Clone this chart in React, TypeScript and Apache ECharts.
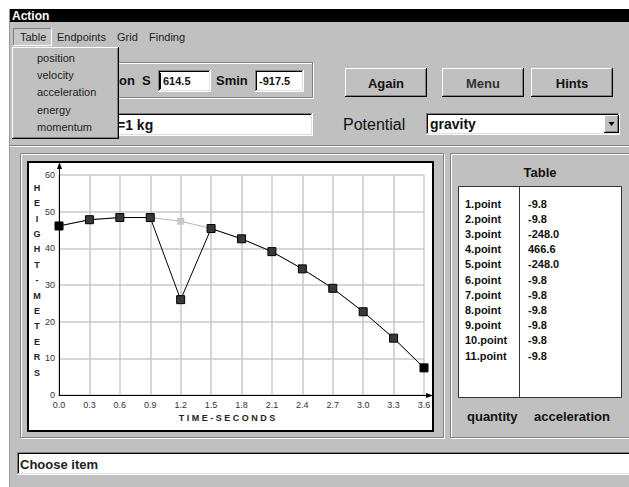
import React, { useEffect, useRef } from "react";
import * as echarts from "echarts";

// ---------- data ----------
const times = [0.0, 0.3, 0.6, 0.9, 1.2, 1.5, 1.8, 2.1, 2.4, 2.7, 3.0, 3.3, 3.6];
const originalHeights = [46.1, 47.8, 48.4, 48.4, 47.4, 45.4, 42.6, 39.1, 34.4, 29.1, 22.7, 15.5, 7.4];
const movedHeights = [46.1, 47.8, 48.4, 48.4, 26.0, 45.4, 42.6, 39.1, 34.4, 29.1, 22.7, 15.5, 7.4];
const movedIndex = 4;

const tableLabels = ["1.point", "2.point", "3.point", "4.point", "5.point", "6.point", "7.point", "8.point", "9.point", "10.point", "11.point"];
const tableValues = [-9.8, -9.8, -248.0, 466.6, -248.0, -9.8, -9.8, -9.8, -9.8, -9.8, -9.8];

const menuItems = ["Table", "Endpoints", "Grid", "Finding"];
const dropdownItems = ["position", "velocity", "acceleration", "energy", "momentum"];
const buttonLabels = ["Again", "Menu", "Hints"];

const yAxisTitle = "HEIGHT-METERS";
const xAxisTitle = "TIME-SECONDS";

// ---------- layout ----------
const FONT = "'Liberation Sans', Arial, sans-serif";
const GRAY = "#c0c0c0";
const DARK = "#808080";
const menuX = [20, 57, 117, 149];
const buttonX = [345, 442, 531];
const GRID = { left: 59, top: 175, width: 365, height: 220 };

type El = Record<string, any>;

function ln(x1: number, y1: number, x2: number, y2: number, color: string, w = 1, z = 1): El {
  return { type: "line", silent: true, z, shape: { x1, y1, x2, y2 }, style: { stroke: color, lineWidth: w } };
}
function rect(x: number, y: number, w: number, h: number, fill: string, z = 1, stroke?: string, lw = 1): El {
  return {
    type: "rect", silent: true, z, shape: { x, y, width: w, height: h },
    style: { fill, stroke: stroke || "none", lineWidth: lw },
  };
}
function txt(text: string, x: number, y: number, font: string, opts: El = {}): El {
  const align = opts.align || "left";
  return {
    type: "text", silent: true, z: opts.z ?? 5, x, y,
    style: {
      text, font, fill: opts.fill || "#111",
      align, textAlign: align, verticalAlign: "middle", textVerticalAlign: "middle",
      lineHeight: opts.lineHeight, 
    },
  };
}
function raised(x: number, y: number, w: number, h: number, z = 1): El[] {
  return [
    rect(x, y, w, h, GRAY, z),
    ln(x, y + 0.5, x + w - 1, y + 0.5, "#fff", 1, z),
    ln(x + 0.5, y, x + 0.5, y + h - 1, "#fff", 1, z),
    ln(x, y + h - 0.5, x + w, y + h - 0.5, "#000", 1, z),
    ln(x + w - 0.5, y, x + w - 0.5, y + h, "#000", 1, z),
    ln(x + 1, y + h - 1.5, x + w - 1, y + h - 1.5, DARK, 1, z),
    ln(x + w - 1.5, y + 1, x + w - 1.5, y + h - 1, DARK, 1, z),
  ];
}
function sunken(x: number, y: number, w: number, h: number, fill = "#fff", z = 1): El[] {
  return [
    rect(x, y, w, h, fill, z),
    ln(x, y + 0.5, x + w, y + 0.5, DARK, 1, z),
    ln(x + 0.5, y, x + 0.5, y + h, DARK, 1, z),
    ln(x + 1, y + 1.5, x + w - 1, y + 1.5, "#000", 1, z),
    ln(x + 1.5, y + 1, x + 1.5, y + h - 1, "#000", 1, z),
    ln(x, y + h - 0.5, x + w, y + h - 0.5, "#fff", 1, z),
    ln(x + w - 0.5, y, x + w - 0.5, y + h, "#fff", 1, z),
    ln(x + 1, y + h - 1.5, x + w - 1, y + h - 1.5, "#dfdfdf", 1, z),
    ln(x + w - 1.5, y + 1, x + w - 1.5, y + h - 1, "#dfdfdf", 1, z),
  ];
}
function etched(x: number, y: number, w: number, h: number, z = 1): El[] {
  return [
    { type: "rect", silent: true, z, shape: { x: x + 1.5, y: y + 1.5, width: w - 2, height: h - 2 }, style: { fill: "none", stroke: "#fff", lineWidth: 1 } },
    { type: "rect", silent: true, z, shape: { x: x + 0.5, y: y + 0.5, width: w - 2, height: h - 2 }, style: { fill: "none", stroke: DARK, lineWidth: 1 } },
  ];
}

function buildGraphic(): El[] {
  const els: El[] = [];
  // window
  els.push(rect(10, 9, 619, 478, GRAY, 0));
  els.push(ln(9.5, 9, 9.5, 487, "#9a9a9a", 1, 0));
  // title bar
  els.push(rect(10, 9, 619, 13, "#000", 1));
  els.push(txt("Action", 12, 16, `bold 12px ${FONT}`, { fill: "#fff" }));
  // menu bar
  els.push(rect(13, 28, 39, 18, "#c8c8c8", 1));
  els.push(ln(13, 28.5, 52, 28.5, DARK, 1, 1));
  els.push(ln(13.5, 28, 13.5, 46, DARK, 1, 1));
  els.push(ln(13, 45.5, 52, 45.5, "#fff", 1, 1));
  els.push(ln(51.5, 28, 51.5, 46, "#fff", 1, 1));
  menuItems.forEach((m, i) => els.push(txt(m, menuX[i], 37, `11px ${FONT}`, { fill: "#222" })));

  // top group box
  els.push(...etched(20, 62, 294, 37, 1));
  els.push(txt("on  S", 119, 80, `bold 13px ${FONT}`));
  els.push(...sunken(158, 70, 53, 22));
  els.push(ln(160.5, 73, 160.5, 89, "#000", 1, 3));
  els.push(txt("614.5", 163, 81, `bold 11px ${FONT}`));
  els.push(txt("Smin", 216, 80, `bold 13px ${FONT}`));
  els.push(...sunken(255, 70, 49, 22));
  els.push(txt("-917.5", 259, 81, `bold 11px ${FONT}`));
  // mass field
  els.push(...sunken(20, 113, 293, 23));
  els.push(txt("=1 kg", 117, 125, `bold 14px ${FONT}`));

  // buttons
  buttonLabels.forEach((b, i) => {
    els.push(...raised(buttonX[i], 68, 82, 29, 1));
    els.push(txt(b, buttonX[i] + 41, 83, `bold 13px ${FONT}`, { align: "center", fill: i === 1 ? "#333" : "#111" }));
  });
  // potential
  els.push(txt("Potential", 343, 124, `16px ${FONT}`));
  els.push(...sunken(426, 113, 194, 22));
  els.push(txt("gravity", 430, 124, `bold 14px ${FONT}`));
  els.push(...raised(604, 115, 15, 18, 2));
  els.push({ type: "polygon", silent: true, z: 3, shape: { points: [[608.5, 122], [614.5, 122], [611.5, 126]] }, style: { fill: "#000" } });

  // separator
  els.push(ln(10, 145.5, 629, 145.5, DARK, 1, 1));
  els.push(ln(10, 146.5, 629, 146.5, "#fff", 1, 1));

  // chart panel
  els.push(...etched(20, 153, 425, 286, 1));
  els.push(rect(28, 162, 405, 269, "#fff", 1, "#000", 2));

  // table panel
  els.push(...etched(450, 153, 185, 286, 1));
  els.push(txt("Table", 540, 172, `bold 13px ${FONT}`, { align: "center" }));
  els.push(rect(458.5, 186.5, 163, 211, "#fff", 1, "#333", 1));
  els.push(ln(519.5, 187, 519.5, 397, "#333", 1, 2));
  tableLabels.forEach((l, i) => {
    const y = 203.5 + i * 15.2;
    els.push(txt(l, 465, y, `bold 11px ${FONT}`));
    els.push(txt(tableValues[i].toFixed(1), 528, y, `bold 11px ${FONT}`));
  });
  els.push(txt("quantity", 467, 416, `bold 13px ${FONT}`));
  els.push(txt("acceleration", 534, 416, `bold 13px ${FONT}`));

  // status bar
  els.push(...sunken(17, 452, 614, 23));
  els.push(txt("Choose item", 20, 464, `bold 13px ${FONT}`, { fill: "#222" }));

  // axis extensions + arrows
  const gx = GRID.left, gb = GRID.top + GRID.height, gr = GRID.left + GRID.width;
  els.push(ln(gx + 0.5, GRID.top, gx + 0.5, 166, "#000", 1, 30));
  els.push({ type: "polygon", silent: true, z: 30, shape: { points: [[gx + 0.5, 162], [gx - 2, 169], [gx + 3, 169]] }, style: { fill: "#000" } });
  els.push(ln(gr, gb + 0.5, 429, gb + 0.5, "#000", 1, 30));
  els.push({ type: "polygon", silent: true, z: 30, shape: { points: [[433, gb + 0.5], [426, gb - 2], [426, gb + 3]] }, style: { fill: "#000" } });

  // axis titles
  els.push(txt(yAxisTitle.split("").join("\n"), 37, 180, `bold 9px ${FONT}`, { align: "center", lineHeight: 15.4, fill: "#222", z: 30 }));
  // override vertical align for multi-line: top
  const yt = els[els.length - 1];
  yt.style.verticalAlign = "top";
  yt.style.textVerticalAlign = "top";
  els.push(txt(xAxisTitle.split("").join(" "), 227, 418, `bold 9px ${FONT}`, { align: "center", fill: "#222", z: 30 }));

  // dropdown menu (on top)
  els.push(...raised(12, 47, 107, 92, 50));
  dropdownItems.forEach((d, i) => els.push(txt(d, 37, 58 + i * 17.2, `11px ${FONT}`, { fill: "#222", z: 55 })));
  return els;
}

export default function App() {
  const ref = useRef<HTMLDivElement>(null);
  useEffect(() => {
    if (!ref.current) return;
    const chart = echarts.init(ref.current, null, { renderer: "svg" });
    const origData = times.map((t, i) => ({
      value: [t, originalHeights[i]],
      symbol: i === movedIndex ? "rect" : "none",
    }));
    const movedData = times.map((t, i) => ({
      value: [t, movedHeights[i]],
      itemStyle: i === 0 || i === times.length - 1 ? { color: "#000", borderColor: "#000" } : undefined,
    }));
    chart.setOption({
      animation: false,
      backgroundColor: "#fff",
      graphic: { elements: buildGraphic() },
      grid: { ...GRID, containLabel: false, outerBoundsMode: "none" },
      xAxis: {
        type: "value", min: 0, max: 3.6, interval: 0.3, z: 10,
        axisLine: { show: true, onZero: false, lineStyle: { color: "#000", width: 1 } },
        axisTick: { show: false },
        splitLine: { show: true, lineStyle: { color: "#c8c8c8", width: 1.5 } },
        axisLabel: { fontSize: 9, color: "#333", fontFamily: FONT, margin: 5, formatter: (v: number) => v.toFixed(1), showMaxLabel: true, showMinLabel: true },
      },
      yAxis: {
        type: "value", min: 0, max: 60, interval: 10, z: 10,
        axisLine: { show: true, onZero: false, lineStyle: { color: "#000", width: 1 } },
        axisTick: { show: false },
        splitLine: { show: true, lineStyle: { color: "#c8c8c8", width: 1.5 } },
        axisLabel: { fontSize: 9, color: "#333", fontFamily: FONT, margin: 4, showMaxLabel: true, showMinLabel: true },
      },
      series: [
        {
          type: "line", z: 20, data: origData, symbol: "rect", symbolSize: 7,
          lineStyle: { color: "#b4b4b4", width: 1 },
          itemStyle: { color: "#c8c8c8", borderColor: "#c8c8c8", borderWidth: 0 },
          emphasis: { disabled: true }, silent: true,
        },
        {
          type: "line", z: 21, data: movedData, symbol: "rect", symbolSize: 8,
          lineStyle: { color: "#000", width: 1 },
          itemStyle: { color: "#383838", borderColor: "#000", borderWidth: 1 },
          emphasis: { disabled: true }, silent: true,
        },
      ],
    });
    return () => chart.dispose();
  }, []);
  return (
    <div
      ref={ref}
      style={{ position: "absolute", left: 0, top: 0, width: 629, height: 487, background: "#fff" }}
    />
  );
}
